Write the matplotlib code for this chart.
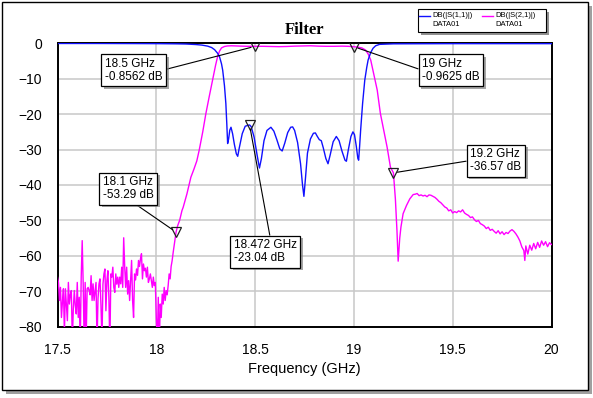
import numpy as np
import matplotlib.pyplot as plt
from matplotlib import patheffects
from matplotlib.patches import Rectangle
from matplotlib.lines import Line2D

plt.rcParams['font.family'] = ['Liberation Sans', 'DejaVu Sans']

# --- S11 (blue)
s11_freq = [17.5, 17.7, 17.9, 18.0, 18.1, 18.15, 18.2, 18.23, 18.26, 18.28, 18.295,
            18.31, 18.32, 18.33, 18.336, 18.345, 18.352, 18.357, 18.361, 18.366, 18.372,
            18.378, 18.386, 18.395, 18.405, 18.412, 18.42, 18.435, 18.45, 18.472, 18.48,
            18.495, 18.51, 18.522, 18.532, 18.545, 18.56, 18.58, 18.595, 18.61, 18.625,
            18.637, 18.65, 18.665, 18.68, 18.69, 18.70, 18.715, 18.73, 18.74, 18.747,
            18.755, 18.765, 18.78, 18.795, 18.805, 18.815, 18.825, 18.835, 18.845, 18.858,
            18.869, 18.88, 18.895, 18.911, 18.925, 18.94, 18.955, 18.962, 18.972, 18.985,
            18.995, 19.003, 19.012, 19.02, 19.024, 19.029, 19.034, 19.044, 19.055, 19.065,
            19.072, 19.085, 19.097, 19.11, 19.13, 19.2, 19.5, 20.0]
s11_db = [-0.05, -0.05, -0.08, -0.1, -0.15, -0.2, -0.35, -0.5, -0.8, -1.2, -1.8,
          -2.8, -3.8, -5.8, -7.6, -12, -17, -23, -28.3, -27, -24.5,
          -23.7, -25.5, -28.5, -31.2, -31.9, -29.5, -25.5, -23.4, -23.04, -23.5,
          -26.5, -31.5, -35.2, -32.5, -27.5, -24.6, -23.7, -24.8, -27.2, -29.8,
          -30.4, -28.2, -25.2, -23.7, -23.6, -24.6, -28, -34, -40, -43.2,
          -38, -31, -27, -25.4, -25.3, -26.3, -27.2, -27.5, -29.5, -32.5,
          -34.0, -31.5, -27.8, -26.3, -27.5, -30.5, -33.0, -33.3, -30, -26.3,
          -25.0, -25.8, -29, -32.5, -33.0, -29, -24.6, -17, -10.4, -6.8,
          -4.7, -2.6, -1.4, -0.7, -0.3, -0.15, -0.1, -0.1]

# --- S21 (magenta): noisy floor 17.5 .. 18.07 GHz (evenly swept)
s21_noise_db = [-66, -67.5, -72.6, -68.9, -77.4, -73, -69.3, -82, -69.3, -74,
                -78.3, -67.5, -73.6, -71, -69.8, -84, -75, -69.8, -74, -76.4,
                -67.5, -77.4, -71.7, -85, -66, -55.7, -67.9, -85, -67.5, -84,
                -69.3, -68.9, -69.8, -71, -65.6, -72.6, -67.9, -72.6, -70, -67.5,
                -85, -72, -67.9, -66.5, -74, -84, -68, -65.1, -63.7, -75.5,
                -67, -64.2, -71.7, -86, -65.1, -66, -63.2, -68.9, -70.3, -65.1,
                -68, -66, -68.9, -66, -67.9, -63.2, -68.9, -54.9, -63, -68.9,
                -63.2, -70.8, -67, -72.6, -67, -61.3, -72.6, -77.4, -65.1, -66.8,
                -63.7, -65.5, -61.3, -63, -60.8, -59.4, -66.5, -62.3, -64.2, -63.5,
                -66, -63.2, -67.5, -66.5, -65.1, -67, -68.9, -66, -68.4, -67.5,
                -77.4, -85, -71.7, -86, -73.6, -77.4, -70.8, -73.6, -68.9, -72.6,
                -69.8, -71, -68.4, -65.1, -66.5]
s21_noise_start, s21_noise_stop = 17.5, 18.07

# --- S21 passband and upper skirt
s21_freq = [18.075, 18.08, 18.086, 18.092, 18.1, 18.108, 18.118, 18.13, 18.136, 18.145,
            18.155, 18.165, 18.175, 18.19, 18.205, 18.217, 18.235, 18.251, 18.268, 18.285,
            18.3, 18.31, 18.32, 18.33, 18.345, 18.36, 18.38, 18.4, 18.43, 18.46,
            18.5, 18.54, 18.58, 18.62, 18.66, 18.7, 18.74, 18.78, 18.82, 18.86,
            18.9, 18.94, 18.97, 19.0, 19.02, 19.04, 19.059, 19.072, 19.085, 19.1,
            19.118, 19.134, 19.151, 19.168, 19.185, 19.2, 19.21, 19.218, 19.224, 19.232,
            19.238, 19.249, 19.266, 19.283, 19.30]
s21_db = [-63, -61.4, -58.8, -56.5, -53.29, -51.5, -50.0, -47.2, -46.3, -44.5,
          -42.5, -40.2, -37.8, -35.6, -33.2, -30.2, -25, -19.8, -15, -10.4,
          -6.2, -3.8, -2.2, -1.3, -0.9, -0.75, -0.7, -0.75, -0.8, -0.85,
          -0.856, -0.85, -0.9, -0.95, -0.9, -0.8, -0.75, -0.7, -0.8, -0.85,
          -0.85, -0.8, -0.85, -0.9625, -1.1, -1.3, -1.9, -3.0, -4.7, -8.5,
          -13.2, -19.8, -24.6, -29.3, -35, -36.57, -44, -53, -61.5, -55,
          -51.9, -48.1, -45.8, -43.9, -42.7]

# --- S21 stopband tail
tail_freq = [19.31, 19.32, 19.33, 19.34, 19.35, 19.36, 19.37, 19.38, 19.39, 19.40,
             19.41, 19.42, 19.43, 19.44, 19.45, 19.46, 19.47, 19.48, 19.49, 19.50,
             19.51, 19.52, 19.53, 19.54, 19.55, 19.56, 19.57, 19.58, 19.59, 19.60,
             19.61, 19.62, 19.63, 19.64, 19.65, 19.66, 19.67, 19.68, 19.69, 19.70,
             19.71, 19.72, 19.73, 19.74, 19.75, 19.76, 19.77, 19.78, 19.79, 19.80,
             19.81, 19.82, 19.83, 19.84, 19.85, 19.86, 19.865, 19.87, 19.88, 19.89,
             19.90, 19.91, 19.92, 19.93, 19.94, 19.95, 19.96, 19.97, 19.98, 19.99, 20.0]
tail_db = [-42.6, -42.4, -43.0, -42.8, -43.1, -42.9, -43.3, -42.8, -42.9, -43.2,
           -43.5, -44.0, -44.6, -45.0, -45.6, -46.2, -46.5, -47.3, -47.0, -47.9,
           -47.5, -47.8, -47.3, -47.6, -47.0, -47.9, -48.3, -48.6, -49.2, -49.0,
           -49.8, -50.3, -50.0, -50.9, -51.2, -51.6, -52.3, -51.9, -52.8, -52.5,
           -53.1, -53.6, -52.9, -53.8, -53.2, -54.0, -53.4, -53.7, -53.0, -52.6,
           -53.1, -53.8, -54.7, -55.8, -57.5, -58.5, -61.3, -57.2, -59.5, -57.0,
           -58.4, -56.5, -58.0, -56.2, -57.6, -55.8, -57.0, -56.0, -57.4, -56.3, -56.8]

# --- markers
mk_freq = [18.5, 19.0, 19.2, 18.1, 18.472]
mk_db = [-0.8562, -0.9625, -36.57, -53.29, -23.04]
mk_text = ['18.5 GHz\n-0.8562 dB', '19 GHz\n-0.9625 dB', '19.2 GHz\n-36.57 dB',
           '18.1 GHz\n-53.29 dB', '18.472 GHz\n-23.04 dB']
# where each label box sits (data coords of its left/centre) and where its leader leaves the box
mk_text_pos = [(17.74, -7.6), (19.345, -7.6), (19.588, -33.1), (17.73, -41.0), (18.393, -58.8)]
mk_relpos = [(1, 0.5), (0, 0.5), (0, 0.5), (0.55, 0), (0.58, 1)]

x_ticks = [17.5, 18, 18.5, 19, 19.5, 20]
x_ticklabels = ['17.5', '18', '18.5', '19', '19.5', '20']
y_ticks = [0, -10, -20, -30, -40, -50, -60, -70, -80]

W, H = 593, 398
fig = plt.figure(figsize=(W / 100, H / 100), dpi=100)


def fx(px):
    return px / W


def fy(py):
    return 1 - py / H


# outer frame with drop shadow
fig.patches.append(Rectangle((fx(6), fy(394)), 586 / W, 388 / H, transform=fig.transFigure,
                             fc='#a0a0a0', ec='none', zorder=0))
fig.patches.append(Rectangle((fx(2), fy(390)), 586 / W, 388 / H, transform=fig.transFigure,
                             fc='white', ec='black', lw=1.0, zorder=1))

ax = fig.add_axes([fx(57.5), fy(326.7), (551.5 - 57.5) / W, (326.7 - 43.3) / H])
ax.set_zorder(2)

s21_noise_freq = np.linspace(s21_noise_start, s21_noise_stop, len(s21_noise_db))
all_s21_freq = np.concatenate([s21_noise_freq, s21_freq, tail_freq])
all_s21_db = np.concatenate([s21_noise_db, s21_db, tail_db])

ax.plot(all_s21_freq, all_s21_db, color='#ff00ff', lw=1.0, zorder=3)
ax.plot(s11_freq, s11_db, color='#1010ff', lw=1.0, zorder=4)
ax.plot(mk_freq, mk_db, ls='none', marker='v', ms=7, mfc='none', mec='#202020', mew=0.9, zorder=6)

for f, d, txt, pos, rp in zip(mk_freq, mk_db, mk_text, mk_text_pos, mk_relpos):
    t = ax.annotate(txt, xy=(f, d), xytext=pos, textcoords='data', ha='left', va='center',
                    fontsize=8.5, linespacing=1.1, zorder=7,
                    bbox=dict(boxstyle='square,pad=0.3', fc='white', ec='black', lw=0.9),
                    arrowprops=dict(arrowstyle='-', color='black', lw=0.8, relpos=rp,
                                    shrinkA=0, shrinkB=3))
    t.get_bbox_patch().set_path_effects([
        patheffects.SimplePatchShadow(offset=(2, -2), shadow_rgbFace='#808080', alpha=0.7),
        patheffects.Normal()])

ax.set_xlim(17.5, 20)
ax.set_ylim(-80, 0)
ax.set_xticks(x_ticks)
ax.set_xticklabels(x_ticklabels)
ax.set_yticks(y_ticks)
ax.tick_params(length=0, labelsize=10)
ax.tick_params(axis='y', pad=11)
ax.tick_params(axis='x', pad=11.5)
ax.grid(True, color='#c8c8c8', lw=1.1)
ax.set_axisbelow(True)
for sp in ax.spines.values():
    sp.set_linewidth(1.4)
    sp.set_color('black')

ax.set_xlabel('Frequency (GHz)', fontsize=10.5, labelpad=4)
ax.set_title('Filter', fontsize=12, fontweight='bold', family='Liberation Serif', pad=7)

# legend box, drawn by hand
fig.patches.append(Rectangle((fx(421), fy(34.5)), 128 / W, 22 / H, transform=fig.transFigure,
                             fc='#909090', ec='none', zorder=3))
fig.patches.append(Rectangle((fx(418), fy(31.5)), 128 / W, 22 / H, transform=fig.transFigure,
                             fc='white', ec='black', lw=0.8, zorder=4))
fig.lines.append(Line2D([fx(419), fx(430)], [fy(15.5), fy(15.5)], transform=fig.transFigure,
                        color='#1010ff', lw=1.0, zorder=5))
fig.lines.append(Line2D([fx(482), fx(493)], [fy(15.5), fy(15.5)], transform=fig.transFigure,
                        color='#ff00ff', lw=1.0, zorder=5))
fig.text(fx(432), fy(15.5), 'DB(|S(1,1)|)', fontsize=5.5, va='center', ha='left', zorder=5)
fig.text(fx(432), fy(25), 'DATA01', fontsize=5.5, va='center', ha='left', zorder=5)
fig.text(fx(495), fy(15.5), 'DB(|S(2,1)|)', fontsize=5.5, va='center', ha='left', zorder=5)
fig.text(fx(495), fy(25), 'DATA01', fontsize=5.5, va='center', ha='left', zorder=5)

fig.savefig('out.png', dpi=100)
